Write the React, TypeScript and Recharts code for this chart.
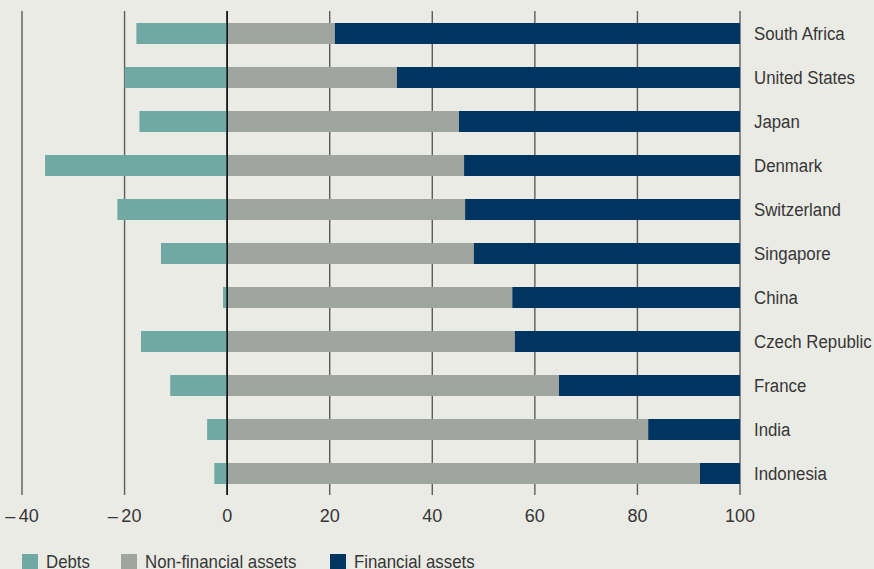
import React from "react";
import { BarChart, Bar, XAxis, YAxis, CartesianGrid, ReferenceLine } from "recharts";

const countries = ["South Africa", "United States", "Japan", "Denmark", "Switzerland", "Singapore", "China", "Czech Republic", "France", "India", "Indonesia"];
const debts = [-17.7, -20.0, -17.1, -35.5, -21.4, -12.9, -0.8, -16.8, -11.1, -3.9, -2.5];
const nonFinancial = [21.0, 33.1, 45.2, 46.2, 46.4, 48.1, 55.6, 56.1, 64.7, 82.1, 92.2];
const financial = [79.0, 66.9, 54.8, 53.8, 53.6, 51.9, 44.4, 43.9, 35.3, 17.9, 7.8];
const xTicks = [-40, -20, 0, 20, 40, 60, 80, 100];

const data = countries.map((name, i) => ({
  name,
  debts: debts[i],
  nonFinancial: nonFinancial[i],
  financial: financial[i],
}));

const BG = "#EBEBE5";
const C_DEBT = "#70A9A4";
const C_NON = "#A1A59F";
const C_FIN = "#003461";
const FONT = "'Liberation Sans', Arial, sans-serif";
const SX = 0.885;

const legendItems = [
  { label: "Debts", color: C_DEBT, left: 22 },
  { label: "Non-financial assets", color: C_NON, left: 121 },
  { label: "Financial assets", color: C_FIN, left: 330 },
];

const fmt = (v: number) => (v < 0 ? "\u2013\u2009" + Math.abs(v) : String(v));

const YTick = (props: any) => {
  const { x, y, payload } = props;
  return (
    <g transform={`translate(${x},${y})`}>
      <text
        transform={`scale(${SX},1)`}
        x={0}
        y={0}
        dy="0.36em"
        textAnchor="start"
        fill="#363636"
        fontSize={19}
        fontFamily={FONT}
      >
        {payload.value}
      </text>
    </g>
  );
};

export default function App() {
  return (
    <div style={{ position: "absolute", left: 0, top: 0, width: 874, height: 569, background: BG, overflow: "hidden", fontFamily: FONT }}>
      <BarChart
        width={874}
        height={569}
        data={data}
        layout="vertical"
        stackOffset="sign"
        barSize={21}
        margin={{ top: 11, right: 0, left: 22, bottom: 44 }}
      >
        <CartesianGrid vertical horizontal={false} stroke="#5c5c5c" strokeWidth={1.4} />
        <XAxis
          type="number"
          domain={[-40, 100]}
          ticks={xTicks}
          tickFormatter={fmt}
          axisLine={false}
          tickLine={false}
          tickSize={0}
          tickMargin={14}
          height={30}
          interval={0}
          tick={{ fill: "#363636", fontSize: 18, fontFamily: FONT }}
        />
        <YAxis
          type="category"
          dataKey="name"
          orientation="right"
          width={134}
          axisLine={false}
          tickLine={false}
          tickSize={0}
          tickMargin={14}
          interval={0}
          tick={<YTick />}
        />
        <Bar dataKey="debts" stackId="a" fill={C_DEBT} isAnimationActive={false} />
        <Bar dataKey="nonFinancial" stackId="a" fill={C_NON} isAnimationActive={false} />
        <Bar dataKey="financial" stackId="a" fill={C_FIN} isAnimationActive={false} />
        <ReferenceLine x={0} stroke="#111" strokeWidth={1.6} />
      </BarChart>
      {legendItems.map((it) => (
        <div key={it.label} style={{ position: "absolute", left: it.left, top: 552, height: 20, whiteSpace: "nowrap" }}>
          <div style={{ position: "absolute", left: 0, top: 2, width: 16, height: 16, background: it.color }} />
          <span
            style={{
              position: "absolute",
              left: 24,
              top: 0,
              fontSize: 19,
              lineHeight: "19px",
              color: "#363636",
              transform: `scaleX(${SX})`,
              transformOrigin: "left top",
            }}
          >
            {it.label}
          </span>
        </div>
      ))}
    </div>
  );
}
